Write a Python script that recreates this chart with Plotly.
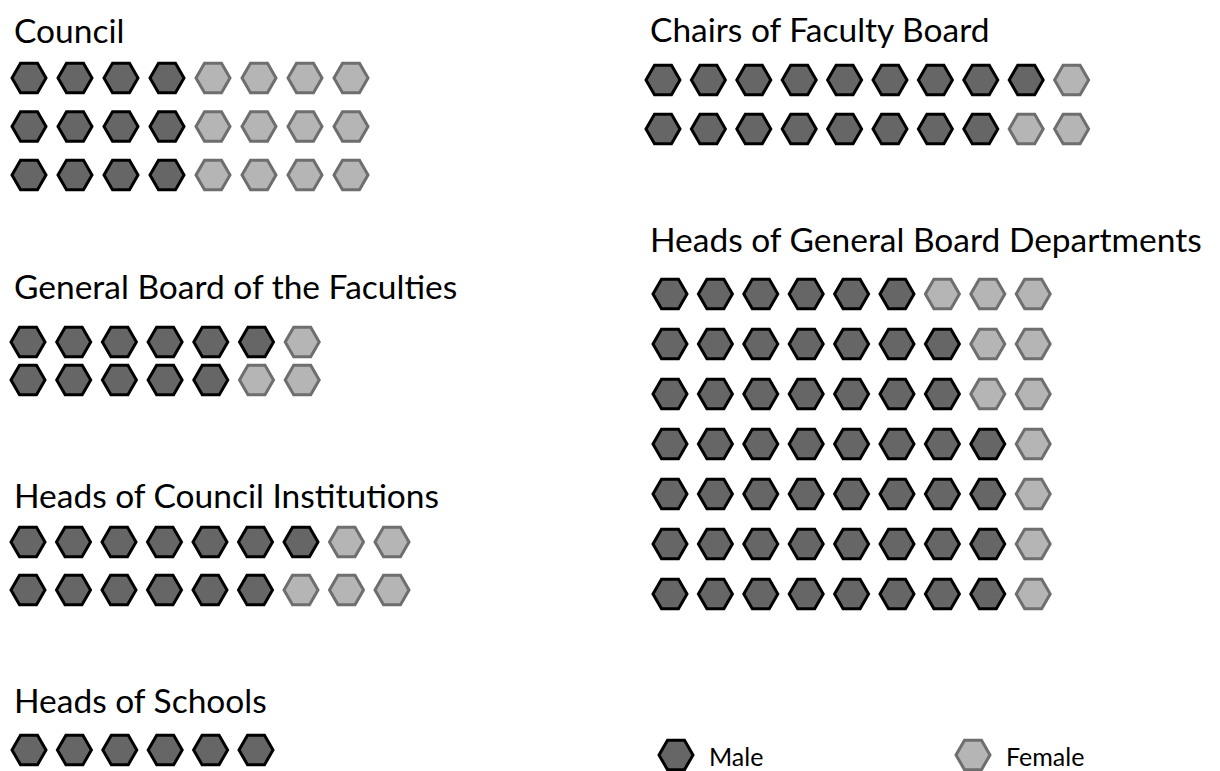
import plotly.graph_objects as go

# ---- data: counts per row (male, female) ----
groups = ["Council", "General Board of the Faculties", "Heads of Council Institutions",
          "Heads of Schools", "Chairs of Faculty Board", "Heads of General Board Departments"]
council_male = [4, 4, 4]
council_female = [4, 4, 4]
gbf_male = [6, 5]
gbf_female = [1, 2]
hci_male = [7, 6]
hci_female = [2, 3]
hos_male = [6]
hos_female = [0]
cfb_male = [9, 8]
cfb_female = [1, 2]
hgbd_male = [6, 7, 7, 8, 8, 8, 8]
hgbd_female = [3, 2, 2, 1, 1, 1, 1]
legend_labels = ["Male", "Female"]

counts = {
    "Council": (council_male, council_female),
    "General Board of the Faculties": (gbf_male, gbf_female),
    "Heads of Council Institutions": (hci_male, hci_female),
    "Heads of Schools": (hos_male, hos_female),
    "Chairs of Faculty Board": (cfb_male, cfb_female),
    "Heads of General Board Departments": (hgbd_male, hgbd_female),
}

# ---- layout (pixel grid placement) ----
# title_x, title_y, first_x, first_y, dx, dy
place = {
    "Council": (12, 30, 29, 78, 46, 48.5),
    "General Board of the Faculties": (12, 286, 28, 342, 45.7, 38),
    "Heads of Council Institutions": (12, 495, 28, 542, 45.5, 48),
    "Heads of Schools": (12, 700, 29, 750, 45.4, 48),
    "Chairs of Faculty Board": (648, 29, 663, 80, 45.4, 49),
    "Heads of General Board Departments": (648, 239, 670, 294, 45.4, 50),
}

MALE_FILL, MALE_LINE = "#666666", "#000000"
FEM_FILL, FEM_LINE = "#b5b5b5", "#6e6e6e"
HEX = 34
LW = 3
FONT = "Lato"
PAGE_OFFSET = 8  # default body margin of the html page

mx, my, fx, fy = [], [], [], []
annotations = []
for g in groups:
    males, females = counts[g]
    tx, ty, x0, y0, dx, dy = place[g]
    annotations.append(dict(x=tx, y=ty, xref="x", yref="y", text=g, showarrow=False,
                            xanchor="left", yanchor="middle",
                            font=dict(family=FONT, size=33.5, color="black")))
    for r, (m, f) in enumerate(zip(males, females)):
        for i in range(m):
            mx.append(x0 + i * dx); my.append(y0 + r * dy)
        for j in range(f):
            fx.append(x0 + (m + j) * dx); fy.append(y0 + r * dy)

fig = go.Figure()
fig.add_trace(go.Scatter(x=mx, y=my, mode="markers", name="Male",
                         marker=dict(symbol="hexagon2", size=HEX, color=MALE_FILL,
                                     line=dict(color=MALE_LINE, width=LW))))
fig.add_trace(go.Scatter(x=fx, y=fy, mode="markers", name="Female",
                         marker=dict(symbol="hexagon2", size=HEX, color=FEM_FILL,
                                     line=dict(color=FEM_LINE, width=LW))))

# legend marks
leg_pos = [(676, 755), (973, 755)]
leg_style = [(MALE_FILL, MALE_LINE), (FEM_FILL, FEM_LINE)]
for lab, (lx, ly), (fc, lc) in zip(legend_labels, leg_pos, leg_style):
    fig.add_trace(go.Scatter(x=[lx], y=[ly], mode="markers", showlegend=False,
                             marker=dict(symbol="hexagon2", size=HEX, color=fc,
                                         line=dict(color=lc, width=LW))))
    annotations.append(dict(x=lx + 31, y=ly + 1, xref="x", yref="y", text=lab, showarrow=False,
                            xanchor="left", yanchor="middle",
                            font=dict(family=FONT, size=25, color="black")))

W, H = 1220, 771
fig.update_layout(
    width=W - PAGE_OFFSET, height=H - PAGE_OFFSET,
    margin=dict(l=0, r=0, t=0, b=0),
    paper_bgcolor="white", plot_bgcolor="white",
    showlegend=False,
    xaxis=dict(range=[PAGE_OFFSET, W], visible=False, fixedrange=True),
    yaxis=dict(range=[H, PAGE_OFFSET], visible=False, fixedrange=True),
    annotations=annotations,
)
fig.write_html("out.html")
